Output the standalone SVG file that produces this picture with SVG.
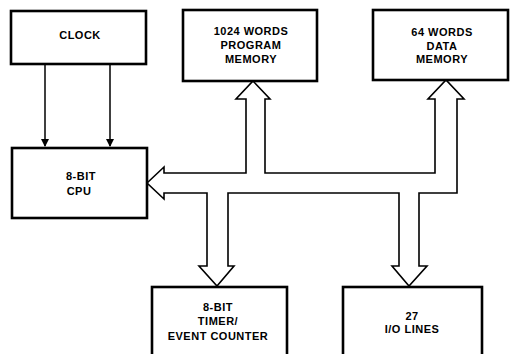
<svg xmlns="http://www.w3.org/2000/svg" width="517" height="354" viewBox="0 0 517 354">
<defs>
<style>
.box{fill:#fff;stroke:#000;stroke-width:2.6}
.t{font-family:"Liberation Sans",Arial,sans-serif;font-weight:bold;font-size:11px;letter-spacing:0.5px;text-anchor:middle;fill:#000}
.ln{stroke:#000;stroke-width:1.5;fill:none}
.bus{fill:#fff;stroke:#000;stroke-width:1.6;stroke-linejoin:miter}
</style>
<marker id="ah" markerWidth="8" markerHeight="10" refX="7" refY="4" orient="auto" markerUnits="userSpaceOnUse" viewBox="0 0 8 8">
<path d="M0,0 L8,4 L0,8 Z" fill="#000"/>
</marker>
</defs>
<rect width="517" height="354" fill="#fff"/>
<g id="connectors">
<line class="ln" x1="45" y1="64" x2="45" y2="146" marker-end="url(#ah)"/>
<line class="ln" x1="110" y1="64" x2="110" y2="146" marker-end="url(#ah)"/>
<path class="bus" d="M147,183 L164,167 L164,173 L246,173 L246,99 L236,99 L253,81 L270,99 L265,99 L265,173 L435,173 L435,99 L428,99 L446,80 L464,99 L457,99 L457,193 L419,193 L419,266 L427,266 L409,286 L392,266 L399,266 L399,193 L228,193 L228,266 L234,266 L217,286 L199,266 L207,266 L207,193 L164,193 L164,199 Z"/>
</g>
<g id="clock">
<rect class="box" x="11" y="11" width="135" height="53"/>
<text class="t" x="80" y="39">CLOCK</text>
</g>
<g id="cpu">
<rect class="box" x="12" y="148" width="135" height="70"/>
<text class="t" x="81" y="180">8-BIT</text>
<text class="t" x="79" y="195">CPU</text>
</g>
<g id="program-memory">
<rect class="box" x="183" y="10" width="134" height="71"/>
<text class="t" x="251" y="35">1024 WORDS</text>
<text class="t" x="251" y="49">PROGRAM</text>
<text class="t" x="251" y="63">MEMORY</text>
</g>
<g id="data-memory">
<rect class="box" x="373" y="10" width="135" height="70"/>
<text class="t" x="442" y="36">64 WORDS</text>
<text class="t" x="442" y="50">DATA</text>
<text class="t" x="442" y="63">MEMORY</text>
</g>
<g id="timer">
<rect class="box" x="152" y="287" width="135" height="75"/>
<text class="t" x="218" y="311">8-BIT</text>
<text class="t" x="218" y="325">TIMER/</text>
<text class="t" x="218" y="340">EVENT COUNTER</text>
</g>
<g id="io">
<rect class="box" x="343" y="287" width="139" height="75"/>
<text class="t" x="412" y="320">27</text>
<text class="t" x="412" y="333">I/O LINES</text>
</g>
</svg>
